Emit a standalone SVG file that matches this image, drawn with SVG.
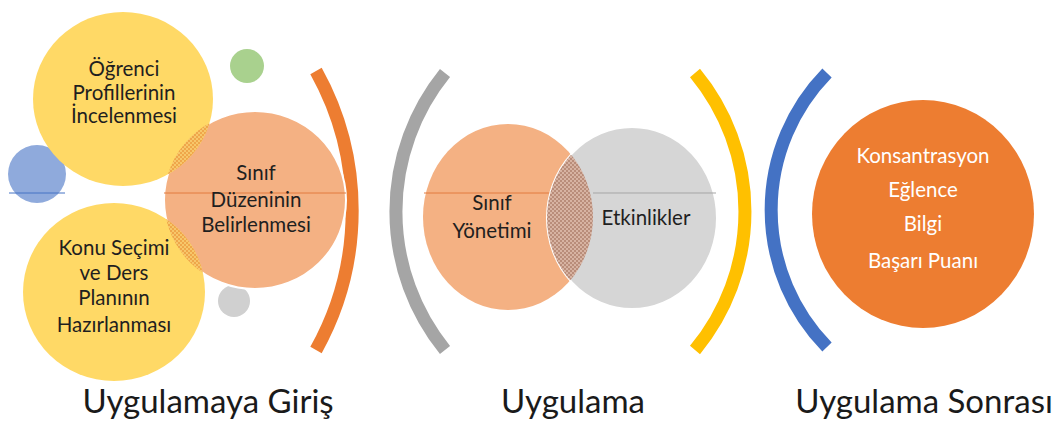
<svg xmlns="http://www.w3.org/2000/svg" width="1053" height="425" viewBox="0 0 1053 425">
<style>
.t{font-family:Lato,"Liberation Sans",sans-serif;font-size:20.5px;fill:#1f1f1f;text-anchor:middle}
.w{font-family:Lato,"Liberation Sans",sans-serif;font-size:20.5px;fill:#ffffff;text-anchor:middle}
.lbl{font-family:Lato,"Liberation Sans",sans-serif;font-size:33px;fill:#1a1a1a;text-anchor:middle}
.arc{fill:none;stroke-width:13}
</style>
<defs>
<pattern id="hatchY" width="4" height="4" patternUnits="userSpaceOnUse">
<rect width="4" height="4" fill="#F7C76A"/>
<rect width="2" height="2" fill="#EFA64A"/>
<rect x="2" y="2" width="2" height="2" fill="#EFA64A"/>
</pattern>
<pattern id="hatchM" width="4" height="4" patternUnits="userSpaceOnUse">
<rect width="4" height="4" fill="#D7B3A2"/>
<rect width="2" height="2" fill="#B98D7A"/>
<rect x="2" y="2" width="2" height="2" fill="#B98D7A"/>
</pattern>
<clipPath id="cSal"><ellipse cx="255" cy="200" rx="91" ry="89"/></clipPath>
<clipPath id="cSY"><ellipse cx="508" cy="217" rx="85" ry="93"/></clipPath>
</defs>

<g id="connectors">
<path class="arc" stroke="#ED7D31" d="M316,71 A287,287 0 0 1 316,350"/>
<path class="arc" stroke="#A5A5A5" d="M445,73 A220,220 0 0 0 445,350"/>
<path class="arc" stroke="#FFC000" d="M695,73 A217,217 0 0 1 695,350"/>
<path class="arc" stroke="#4472C4" d="M827,73 A196,196 0 0 0 827,347"/>
</g>

<g id="node-blue">
<circle cx="37" cy="174" r="29" fill="#8FAADC"/>
<line x1="9" y1="193" x2="65" y2="193" stroke="#4472C4" stroke-width="1"/>
</g>
<g id="node-green"><circle cx="247" cy="66" r="17" fill="#A9D18E"/></g>
<g id="node-gray-small"><circle cx="234" cy="301" r="16" fill="#D0D0D0"/></g>

<g id="node-sinif-duzeni">
<ellipse cx="255" cy="200" rx="91" ry="89" fill="#F4B183" stroke="#ffffff" stroke-width="2"/>
<line x1="164" y1="193" x2="346" y2="193" stroke="#E27A3F" stroke-width="1"/>
</g>
<g id="node-ogrenci">
<ellipse cx="123" cy="99" rx="90" ry="87" fill="#FFD966"/>
<ellipse cx="123" cy="99" rx="90" ry="87" fill="url(#hatchY)" clip-path="url(#cSal)"/>
<text class="t" x="124" y="76">Öğrenci</text>
<text class="t" x="124" y="100">Profillerinin</text>
<text class="t" x="124" y="123">İncelenmesi</text>
</g>
<g id="node-konu">
<ellipse cx="114" cy="292" rx="91" ry="89" fill="#FFD966"/>
<ellipse cx="114" cy="292" rx="91" ry="89" fill="url(#hatchY)" clip-path="url(#cSal)"/>
<text class="t" x="114" y="255">Konu Seçimi</text>
<text class="t" x="114" y="280">ve Ders</text>
<text class="t" x="114" y="305">Planının</text>
<text class="t" x="114" y="332">Hazırlanması</text>
</g>
<g id="node-sinif-duzeni-text">
<text class="t" x="256" y="180">Sınıf</text>
<text class="t" x="256" y="207">Düzeninin</text>
<text class="t" x="256" y="232">Belirlenmesi</text>
</g>

<g id="node-sinif-yonetimi">
<ellipse cx="508" cy="217" rx="85" ry="93" fill="#F4B183"/>
<line x1="424" y1="193" x2="593" y2="193" stroke="#E27A3F" stroke-width="1"/>
<text class="t" x="492" y="210">Sınıf</text>
<text class="t" x="492" y="238">Yönetimi</text>
</g>
<g id="node-etkinlikler">
<ellipse cx="632" cy="218" rx="85" ry="91" fill="#D6D6D6" stroke="#ffffff" stroke-width="2"/>
<ellipse cx="632" cy="218" rx="85" ry="91" fill="url(#hatchM)" clip-path="url(#cSY)"/>
<line x1="593" y1="193" x2="716" y2="193" stroke="#A5A5A5" stroke-width="1"/>
<text class="t" x="646" y="225">Etkinlikler</text>
</g>

<g id="node-sonuc">
<ellipse cx="923" cy="214" rx="111" ry="114" fill="#ED7D31"/>
<text class="w" x="923" y="163">Konsantrasyon</text>
<text class="w" x="923" y="197">Eğlence</text>
<text class="w" x="923" y="231">Bilgi</text>
<text class="w" x="923" y="268">Başarı Puanı</text>
</g>

<g id="labels">
<text class="lbl" x="208" y="413">Uygulamaya Giriş</text>
<text class="lbl" x="573" y="413">Uygulama</text>
<text class="lbl" x="924" y="413">Uygulama Sonrası</text>
</g>
</svg>
